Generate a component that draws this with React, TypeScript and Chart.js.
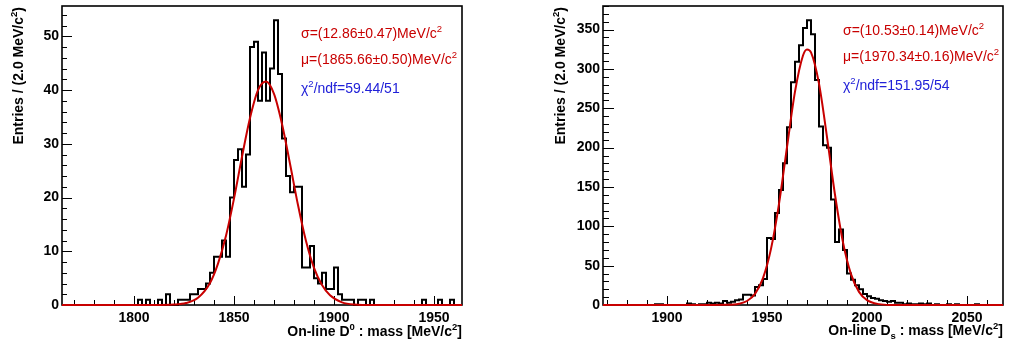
import React, { useEffect, useRef } from 'react';
import { Chart, registerables } from 'chart.js';

Chart.register(...registerables);

// ---------------- data ----------------
const binWidth = 2;

// D0 panel: 100 bins of 2 MeV starting at 1764
const d0BinStart = 1764;
const d0Counts = [
  0, 0, 0, 0, 0, 0, 0, 0, 0, 0,
  0, 0, 0, 0, 0, 0, 0, 0, 0, 1,
  0, 1, 0, 0, 1, 0, 2, 0, 0, 1,
  1, 1, 2, 2, 3, 3, 4, 6, 9, 9,
  12, 9, 20, 27, 29, 22, 28, 48, 49, 38,
  47, 38, 44, 53, 43, 31, 24, 21, 22, 22,
  7, 7, 11, 5, 4, 6, 3, 3, 7, 2,
  1, 1, 1, 0, 1, 1, 0, 1, 0, 0,
  0, 0, 0, 0, 0, 0, 0, 0, 0, 0,
  1, 0, 0, 0, 1, 0, 0, 1, 0, 0,
];
// Gaussian fit curve (mass, entries)
const d0FitX = [1764, 1810, 1820, 1826, 1832, 1838, 1842, 1846, 1850, 1854, 1858, 1862, 1866, 1870, 1874, 1878, 1882, 1886, 1890, 1894, 1898, 1904, 1910, 1920, 1964];
const d0FitY = [0, 0, 0.08, 0.36, 1.35, 4.1, 7.7, 12.9, 19.8, 27.6, 34.8, 40.0, 41.6, 39.3, 33.7, 26.3, 18.6, 11.9, 6.9, 3.7, 1.8, 0.5, 0.1, 0, 0];

// Ds panel: 100 bins of 2 MeV starting at 1868
const dsBinStart = 1868;
const dsCounts = [
  0, 0, 0, 0, 0, 0, 0, 0, 0, 0,
  0, 0, 0, 1, 1, 0, 0, 0, 0, 0,
  0, 2, 1, 0, 1, 1, 3, 2, 3, 2,
  5, 3, 4, 6, 7, 13, 13, 12, 23, 25,
  33, 85, 84, 117, 146, 180, 226, 283, 309, 330,
  352, 362, 344, 286, 227, 203, 200, 134, 80, 96,
  70, 40, 32, 25, 20, 14, 11, 9, 8, 6,
  5, 4, 5, 3, 3, 1, 2, 1, 1, 2,
  1, 2, 0, 1, 0, 0, 1, 0, 1, 0,
  0, 0, 0, 1, 0, 0, 0, 0, 0, 0,
];
const dsFitX = [1868, 1920, 1930, 1936, 1940, 1944, 1948, 1952, 1956, 1960, 1964, 1968, 1970, 1972, 1976, 1980, 1984, 1988, 1992, 1996, 2000, 2006, 2012, 2020, 2068];
const dsFitY = [0, 0, 0.2, 1.6, 5.1, 14.2, 34.2, 71.3, 128.6, 200.7, 271.1, 317.1, 324.8, 321.0, 281.3, 213.4, 140.1, 79.6, 39.2, 16.7, 6.2, 1.1, 0.1, 0, 0];

const d0XTicks = [1800, 1850, 1900, 1950];
const dsXTicks = [1900, 1950, 2000, 2050];

// ---------------- styling ----------------
const FONT = "'Liberation Sans', Arial, Helvetica, sans-serif";
const RED = '#c80000';
const BLUE = '#2020d8';

type Seg = { t: string; s?: 'sup' | 'sub' };

function richWidth(ctx: CanvasRenderingContext2D, segs: Seg[], size: number, weight: string) {
  let w = 0;
  for (const g of segs) {
    const sz = g.s ? size * 0.68 : size;
    ctx.font = `${weight} ${sz}px ${FONT}`;
    w += ctx.measureText(g.t).width;
  }
  return w;
}

function drawRich(
  ctx: CanvasRenderingContext2D, segs: Seg[], x: number, y: number,
  size: number, weight: string, color: string, align: 'left' | 'right'
) {
  const total = richWidth(ctx, segs, size, weight);
  let cx = align === 'right' ? x - total : x;
  ctx.fillStyle = color;
  ctx.textAlign = 'left';
  ctx.textBaseline = 'alphabetic';
  for (const g of segs) {
    const sz = g.s ? size * 0.68 : size;
    ctx.font = `${weight} ${sz}px ${FONT}`;
    const dy = g.s === 'sup' ? -size * 0.45 : g.s === 'sub' ? size * 0.25 : 0;
    ctx.fillText(g.t, cx, y + dy);
    cx += ctx.measureText(g.t).width;
  }
}

type PanelCfg = {
  counts: number[];
  start: number;
  fitX: number[];
  fitY: number[];
  xMin: number;
  xMax: number;
  yMax: number;
  xTicks: number[];
  xMajor: number;
  xMinor: number;
  yMajor: number;
  yMinor: number;
  yMajorLen: number;
  yMinorLen: number;
  canvasWidth: number;
  yAxisWidth: number;
  padRight: number;
  yTitleX: number;
  xTitle: Seg[];
  xTitleY: number;
  texts: { segs: Seg[]; color: string; x: number; y: number }[];
};

const yTitle: Seg[] = [{ t: 'Entries / (2.0 MeV/c' }, { t: '2', s: 'sup' }, { t: ')' }];

const d0Panel: PanelCfg = {
  counts: d0Counts,
  start: d0BinStart,
  fitX: d0FitX,
  fitY: d0FitY,
  xMin: 1764,
  xMax: 1964,
  yMax: 55.65,
  xTicks: d0XTicks,
  xMajor: 50,
  xMinor: 10,
  yMajor: 10,
  yMinor: 2,
  yMajorLen: 10,
  yMinorLen: 5,
  canvasWidth: 505,
  yAxisWidth: 62,
  padRight: 43,
  yTitleX: 23,
  xTitle: [{ t: 'On-line D' }, { t: '0', s: 'sup' }, { t: ' : mass [MeV/c' }, { t: '2', s: 'sup' }, { t: ']' }],
  xTitleY: 336,
  texts: [
    { segs: [{ t: 'σ=(12.86±0.47)MeV/c' }, { t: '2', s: 'sup' }], color: RED, x: 301, y: 38 },
    { segs: [{ t: 'μ=(1865.66±0.50)MeV/c' }, { t: '2', s: 'sup' }], color: RED, x: 301, y: 64 },
    { segs: [{ t: 'χ' }, { t: '2', s: 'sup' }, { t: '/ndf=59.44/51' }], color: BLUE, x: 301, y: 93 },
  ],
};

const dsPanel: PanelCfg = {
  counts: dsCounts,
  start: dsBinStart,
  fitX: dsFitX,
  fitY: dsFitY,
  xMin: 1868,
  xMax: 2068,
  yMax: 380,
  xTicks: dsXTicks,
  xMajor: 50,
  xMinor: 10,
  yMajor: 50,
  yMinor: 10,
  yMajorLen: 11,
  yMinorLen: 6,
  canvasWidth: 506,
  yAxisWidth: 98,
  padRight: 8,
  yTitleX: 60,
  xTitle: [{ t: 'On-line D' }, { t: 's', s: 'sub' }, { t: ' : mass [MeV/c' }, { t: '2', s: 'sup' }, { t: ']' }],
  xTitleY: 335,
  texts: [
    { segs: [{ t: 'σ=(10.53±0.14)MeV/c' }, { t: '2', s: 'sup' }], color: RED, x: 338, y: 35 },
    { segs: [{ t: 'μ=(1970.34±0.16)MeV/c' }, { t: '2', s: 'sup' }], color: RED, x: 338, y: 61 },
    { segs: [{ t: 'χ' }, { t: '2', s: 'sup' }, { t: '/ndf=151.95/54' }], color: BLUE, x: 338, y: 90 },
  ],
};

function makePlugin(cfg: PanelCfg) {
  return {
    id: 'rootStyle',
    beforeDatasetsDraw(chart: any) {
      const { ctx, chartArea: a, scales } = chart;
      const xs = scales.x;
      const ys = scales.y;
      ctx.save();
      ctx.strokeStyle = '#000';
      ctx.lineWidth = 1;
      // x ticks (inward)
      for (let v = Math.ceil(cfg.xMin / cfg.xMinor) * cfg.xMinor; v <= cfg.xMax; v += cfg.xMinor) {
        const px = Math.round(xs.getPixelForValue(v)) + 0.5;
        const len = v % cfg.xMajor === 0 ? 9 : 5;
        ctx.beginPath();
        ctx.moveTo(px, a.bottom);
        ctx.lineTo(px, a.bottom - len);
        ctx.stroke();
      }
      // y ticks (inward)
      for (let v = 0; v <= cfg.yMax; v += cfg.yMinor) {
        const py = Math.round(ys.getPixelForValue(v)) + 0.5;
        const len = v % cfg.yMajor === 0 ? cfg.yMajorLen : cfg.yMinorLen;
        ctx.beginPath();
        ctx.moveTo(a.left, py);
        ctx.lineTo(a.left + len, py);
        ctx.stroke();
      }
      // frame
      ctx.lineWidth = 1.6;
      ctx.strokeRect(a.left, a.top, a.right - a.left, a.bottom - a.top);
      ctx.restore();
    },
    afterDraw(chart: any) {
      const { ctx, chartArea: a } = chart;
      ctx.save();
      // x title
      drawRich(ctx, cfg.xTitle, a.right, cfg.xTitleY, 14, 'bold', '#000', 'right');
      // y title (rotated)
      ctx.save();
      ctx.translate(cfg.yTitleX, a.top + 1);
      ctx.rotate(-Math.PI / 2);
      drawRich(ctx, yTitle, 0, 0, 14, 'bold', '#000', 'right');
      ctx.restore();
      // fit annotations
      for (const t of cfg.texts) {
        drawRich(ctx, t.segs, t.x, t.y, 14, 'normal', t.color, 'left');
      }
      ctx.restore();
    },
  };
}

function Panel({ cfg, left }: { cfg: PanelCfg; left: number }) {
  const ref = useRef<HTMLCanvasElement>(null);
  useEffect(() => {
    const histPts = cfg.counts.map((c, i) => ({ x: cfg.start + i * binWidth, y: c }));
    histPts.push({ x: cfg.start + cfg.counts.length * binWidth, y: cfg.counts[cfg.counts.length - 1] });
    const fitPts = cfg.fitX.map((x, i) => ({ x, y: cfg.fitY[i] }));
    const tickFont = { family: FONT, size: 14, weight: 'bold' as const };
    const chart = new Chart(ref.current!, {
      type: 'line',
      data: {
        datasets: [
          {
            data: fitPts,
            borderColor: RED,
            borderWidth: 2,
            pointRadius: 0,
            cubicInterpolationMode: 'monotone',
            fill: false,
            order: 0,
            clip: false as any,
          },
          {
            data: histPts,
            borderColor: '#000',
            borderWidth: 2,
            pointRadius: 0,
            stepped: true,
            fill: false,
            order: 1,
            clip: false as any,
          },
        ],
      },
      options: {
        animation: false,
        responsive: false,
        events: [],
        layout: { padding: { left: 0, right: cfg.padRight, top: 6, bottom: 0 } },
        plugins: { legend: { display: false }, tooltip: { enabled: false } },
        scales: {
          x: {
            type: 'linear',
            min: cfg.xMin,
            max: cfg.xMax,
            grid: { display: false, drawTicks: false },
            border: { display: false },
            afterBuildTicks: (s: any) => {
              s.ticks = cfg.xTicks.map((v) => ({ value: v }));
            },
            ticks: {
              autoSkip: false,
              maxRotation: 0,
              padding: 5,
              color: '#000',
              font: tickFont,
              callback: (v: any) => String(v),
            },
            afterFit: (s: any) => {
              s.height = 40;
              s.paddingLeft = 0;
              s.paddingRight = 0;
            },
          },
          y: {
            type: 'linear',
            min: 0,
            max: cfg.yMax,
            grid: { display: false, drawTicks: false },
            border: { display: false },
            ticks: {
              stepSize: cfg.yMajor,
              includeBounds: false,
              padding: 3,
              color: '#000',
              font: tickFont,
              callback: (v: any) => String(v),
            },
            afterFit: (s: any) => {
              s.width = cfg.yAxisWidth;
              s.paddingTop = 0;
              s.paddingBottom = 0;
            },
          },
        },
      },
      plugins: [makePlugin(cfg)],
    } as any);
    return () => chart.destroy();
  }, [cfg]);
  return (
    <canvas
      ref={ref}
      width={cfg.canvasWidth}
      height={345}
      style={{ position: 'absolute', left, top: 0, width: cfg.canvasWidth, height: 345 }}
    />
  );
}

export default function App() {
  return (
    <div style={{ position: 'absolute', left: 0, top: 0, width: 1011, height: 345, background: '#fff', overflow: 'hidden' }}>
      <Panel cfg={d0Panel} left={0} />
      <Panel cfg={dsPanel} left={505} />
    </div>
  );
}
